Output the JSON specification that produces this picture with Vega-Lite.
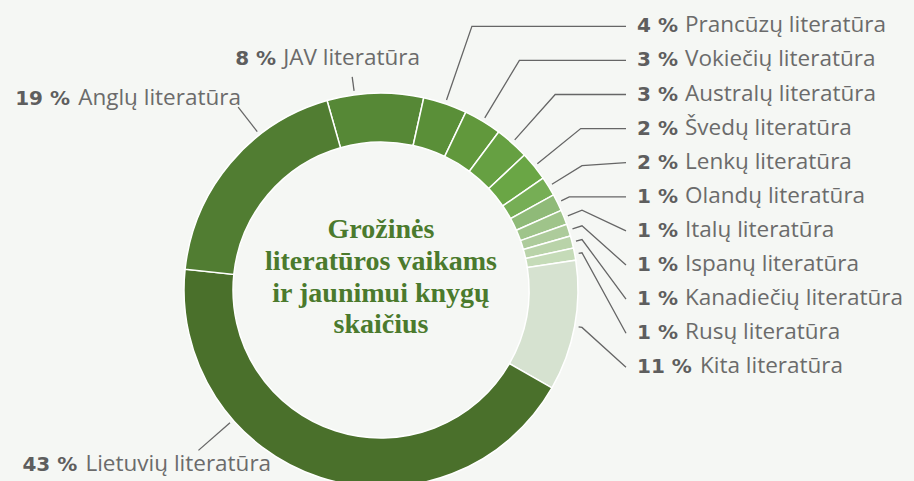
{
  "$schema": "https://vega.github.io/schema/vega-lite/v6.json",
  "width": 914,
  "height": 481,
  "autosize": {"type": "none"},
  "padding": 0,
  "background": "#f5f7f4",
  "config": {"view": {"stroke": null}},
  "data": {
    "values": [
      {"order": 1, "name": "JAV literatūra", "value": 7.9},
      {"order": 2, "name": "Prancūzų literatūra", "value": 3.6},
      {"order": 3, "name": "Vokiečių literatūra", "value": 3.1},
      {"order": 4, "name": "Australų literatūra", "value": 2.8},
      {"order": 5, "name": "Švedų literatūra", "value": 2.4},
      {"order": 6, "name": "Lenkų literatūra", "value": 1.6},
      {"order": 7, "name": "Olandų literatūra", "value": 1.4},
      {"order": 8, "name": "Italų literatūra", "value": 1.2},
      {"order": 9, "name": "Ispanų literatūra", "value": 1.0},
      {"order": 10, "name": "Kanadiečių literatūra", "value": 1.0},
      {"order": 11, "name": "Rusų literatūra", "value": 1.0},
      {"order": 12, "name": "Kita literatūra", "value": 10.7},
      {"order": 13, "name": "Lietuvių literatūra", "value": 43.4},
      {"order": 14, "name": "Anglų literatūra", "value": 18.9}
    ]
  },
  "transform": [
    {"window": [{"op": "sum", "field": "value", "as": "cum"}], "sort": [{"field": "order", "order": "ascending"}], "frame": [null, 0]},
    {"joinaggregate": [{"op": "sum", "field": "value", "as": "total"}]},
    {"calculate": "100 * (datum.cum - datum.value) / datum.total", "as": "p0"},
    {"calculate": "100 * datum.cum / datum.total", "as": "p1"},
    {"calculate": "-15.9 + 360 * (datum.cum - datum.value / 2) / datum.total", "as": "mid"},
    {"calculate": "datum.mid >= 15 && datum.mid <= 135 ? 'list' : datum.mid < 15 ? 'above' : datum.mid >= 300 ? 'left' : 'below'", "as": "place"},
    {"window": [{"op": "row_number", "as": "rank"}], "groupby": ["place"], "sort": [{"field": "order", "order": "ascending"}]},
    {"calculate": "datum.place === 'above' ? min(datum.mid, -7.7) : datum.place === 'left' ? max(datum.mid, 322) : datum.place === 'below' ? max(datum.mid, 228.7) : datum.mid", "as": "anchor"},
    {"calculate": "sin(datum.anchor * PI / 180)", "as": "sx"},
    {"calculate": "cos(datum.anchor * PI / 180)", "as": "cy"},
    {"calculate": "datum.place === 'list' ? 263.7 - 34.1 * (datum.rank - 1) : 0", "as": "endY"},
    {"calculate": "datum.cy > 0 ? datum.endY / datum.cy : 9999", "as": "ry"},
    {"calculate": "datum.sx > 0 ? 201 / datum.sx : 9999", "as": "rx"},
    {"calculate": "datum.place === 'list' ? (datum.ry > 206 && datum.ry < datum.rx ? datum.ry : datum.rx) : datum.place === 'above' ? 215 : datum.place === 'left' ? 232 : 243", "as": "re"},
    {"calculate": "201 * datum.sx", "as": "ax"},
    {"calculate": "201 * datum.cy", "as": "ay"},
    {"calculate": "datum.re * datum.sx", "as": "bx"},
    {"calculate": "datum.re * datum.cy", "as": "by"},
    {"calculate": "datum.place === 'list' ? 245 : datum.bx", "as": "cx"},
    {"calculate": "datum.place === 'list' ? datum.endY : datum.by", "as": "cyy"},
    {"calculate": "datum.place === 'list' ? 256 : datum.bx + (datum.place === 'above' ? -117 : datum.place === 'left' ? -223 : -176)", "as": "labX"},
    {"calculate": "datum.place === 'list' ? datum.endY - 6 : datum.by + (datum.place === 'above' ? 12.4 : datum.place === 'left' ? 2 : -21)", "as": "labY"},
    {"calculate": "format(datum.value, '.0f') + ' %'", "as": "pct"},
    {"calculate": "datum.labX + (length(datum.pct) > 3 ? 63 : 48)", "as": "nameX"}
  ],
  "layer": [
    {
      "mark": {"type": "arc", "radius": 197, "innerRadius": 148, "stroke": "#ffffff", "strokeWidth": 1.5},
      "encoding": {
        "x": {"datum": 0, "type": "quantitative", "scale": {"domain": [-381, 533], "nice": false, "zero": false}, "axis": null},
        "y": {"datum": 0, "type": "quantitative", "scale": {"domain": [-191, 290], "nice": false, "zero": false}, "axis": null},
        "theta": {"field": "p0", "type": "quantitative", "scale": {"domain": [0, 100], "range": [-0.27751, 6.00567]}},
        "theta2": {"field": "p1"},
        "color": {
          "field": "name",
          "type": "nominal",
          "legend": null,
          "scale": {
            "domain": ["JAV literatūra", "Prancūzų literatūra", "Vokiečių literatūra", "Australų literatūra", "Švedų literatūra", "Lenkų literatūra", "Olandų literatūra", "Italų literatūra", "Ispanų literatūra", "Kanadiečių literatūra", "Rusų literatūra", "Kita literatūra", "Lietuvių literatūra", "Anglų literatūra"],
            "range": ["#568836", "#5a8f38", "#61983c", "#66a042", "#6aa645", "#76ae55", "#8fba78", "#9fc48a", "#adcb9b", "#b9d3a9", "#c5dbb8", "#d6e2d0", "#4a702b", "#517d32"]
          }
        }
      }
    },
    {
      "transform": [
        {"fold": ["ax", "bx", "cx"], "as": ["pt", "lx"]},
        {"calculate": "datum.pt === 'ax' ? datum.ay : datum.pt === 'bx' ? datum.by : datum.cyy", "as": "ly"},
        {"calculate": "datum.pt === 'ax' ? 0 : datum.pt === 'bx' ? 1 : 2", "as": "pi"}
      ],
      "mark": {"type": "line", "color": "#666666", "strokeWidth": 1.3},
      "encoding": {
        "x": {"field": "lx", "type": "quantitative", "scale": {"domain": [-381, 533], "nice": false, "zero": false}, "axis": null},
        "y": {"field": "ly", "type": "quantitative", "scale": {"domain": [-191, 290], "nice": false, "zero": false}, "axis": null},
        "detail": {"field": "name"},
        "order": {"field": "pi", "type": "quantitative"}
      }
    },
    {
      "mark": {"type": "text", "align": "left", "baseline": "alphabetic", "font": "Open Sans", "fontSize": 22.5, "color": "#6b6b6b"},
      "encoding": {
        "x": {"field": "nameX", "type": "quantitative", "scale": {"domain": [-381, 533], "nice": false, "zero": false}, "axis": null},
        "y": {"field": "labY", "type": "quantitative", "scale": {"domain": [-191, 290], "nice": false, "zero": false}, "axis": null},
        "text": {"field": "name"}
      }
    },
    {
      "mark": {"type": "text", "align": "left", "baseline": "alphabetic", "font": "DejaVu Sans", "fontSize": 20, "fontWeight": "bold", "color": "#5e5e5e"},
      "encoding": {
        "x": {"field": "labX", "type": "quantitative", "scale": {"domain": [-381, 533], "nice": false, "zero": false}, "axis": null},
        "y": {"field": "labY", "type": "quantitative", "scale": {"domain": [-191, 290], "nice": false, "zero": false}, "axis": null},
        "text": {"field": "pct"}
      }
    },
    {
      "transform": [{"filter": "datum.order === 1"}],
      "mark": {"type": "text", "align": "center", "baseline": "alphabetic", "font": "Liberation Serif", "fontSize": 28, "fontWeight": "bold", "color": "#4b7a2d", "lineHeight": 31.7, "dy": -51.7},
      "encoding": {
        "x": {"datum": 0, "type": "quantitative", "scale": {"domain": [-381, 533], "nice": false, "zero": false}, "axis": null},
        "y": {"datum": 0, "type": "quantitative", "scale": {"domain": [-191, 290], "nice": false, "zero": false}, "axis": null},
        "text": {"value": ["Grožinės", "literatūros vaikams", "ir jaunimui knygų", "skaičius"]}
      }
    }
  ]
}
